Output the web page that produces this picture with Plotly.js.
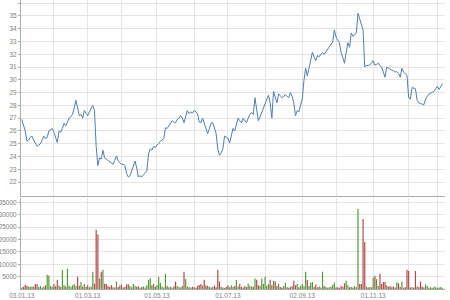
<!DOCTYPE html>
<html><head><meta charset="utf-8">
<script src="https://cdn.plot.ly/plotly-3.0.1.min.js"></script>
<style>html,body{margin:0;padding:0;background:#fff}#chart{width:450px;height:300px}</style>
</head><body><div id="chart"></div>
<script>
// Daily closing prices (trading-day index 0..249)
const price = [
26.9,26.5,26.0,25.2,25.3,25.5,25.6,25.3,25.1,24.8,
24.9,25.0,25.3,25.6,25.4,25.5,26.0,26.1,26.2,25.9,
25.5,25.1,26.0,25.9,26.2,26.6,26.4,26.65,27.0,27.1,
27.3,27.8,28.4,27.8,27.2,27.3,27.0,27.6,27.4,27.2,
27.5,27.7,28.0,27.6,24.8,23.3,23.9,23.8,24.5,23.9,
23.8,23.65,23.6,23.5,23.4,23.7,24.05,23.65,23.5,23.4,
23.4,23.3,22.7,22.4,22.5,22.9,23.3,23.65,23.1,22.4,
22.5,22.4,22.6,22.7,22.9,24.2,24.6,24.5,24.8,24.7,
24.9,25.0,25.2,25.3,25.4,26.25,26.2,26.4,26.65,26.8,
26.7,26.65,26.9,27.0,27.2,27.0,26.65,27.2,27.6,27.35,
27.5,27.4,27.6,27.5,27.35,26.7,26.65,27.0,26.6,26.25,
25.8,26.2,26.6,26.65,26.3,25.8,24.6,24.1,24.3,24.6,
25.6,25.5,25.45,25.05,25.7,26.2,26.0,26.5,27.0,26.8,
26.65,27.0,26.8,26.65,27.0,27.3,27.45,27.3,28.6,27.75,
26.8,27.1,27.45,27.8,28.1,28.5,28.8,28.2,27.0,29.1,
28.6,28.2,28.9,28.7,28.6,28.7,28.85,28.7,28.6,29.0,
28.7,28.2,27.2,27.6,27.5,28.0,28.5,29.95,30.9,30.3,
31.0,31.5,32.15,31.8,31.5,31.9,31.8,32.0,32.1,32.0,
32.2,32.3,32.5,32.7,32.95,33.9,33.35,33.1,32.9,32.15,
31.7,31.3,32.15,32.9,32.55,33.65,33.4,33.5,33.65,35.2,
34.8,34.3,33.9,31.0,31.15,31.1,31.2,31.3,31.5,31.15,
31.2,31.3,31.1,31.0,30.6,30.2,31.0,30.9,30.8,30.75,
30.7,30.6,30.65,30.5,30.2,30.9,30.6,30.5,30.35,28.6,
28.5,29.4,29.35,29.3,28.4,28.2,28.15,28.1,28.05,28.5,
28.7,28.9,28.95,29.0,29.1,29.3,29.5,29.25,29.5,29.7
];
// Daily volume
const volume = [
600,900,1700,1200,1000,800,1100,900,2000,1900,
800,1200,600,1000,1500,5800,5500,1200,900,2000,
1100,3700,1400,800,7700,1500,1000,8200,1300,900,
1500,2000,1200,5000,1300,2800,1000,2000,900,1500,
700,1000,7000,2200,24000,22000,4200,7000,7800,2100,
2000,1200,900,1500,700,600,3000,800,1400,1700,
600,900,1800,1900,1200,700,2000,1300,900,1100,
500,800,1000,600,1500,3700,4300,1500,2000,900,
1500,5000,2500,1000,600,6200,1200,700,900,500,
1100,3000,1200,800,600,1200,7000,4000,1000,700,
600,900,800,500,1200,1600,2000,1400,3700,1500,
1200,900,600,800,1400,700,7800,3000,900,600,
400,800,1500,700,1500,800,1200,3600,1000,2000,
900,600,1200,800,2200,1300,1000,900,4200,3700,
1500,1200,4200,2000,5000,1300,2000,3700,1500,3300,
3000,1200,2000,800,600,1200,2500,700,500,900,
1200,3300,1500,2000,700,1200,2000,1100,7000,3600,
1200,2500,2800,900,1800,700,1000,600,7000,1200,
800,500,700,900,1600,2600,600,700,500,1300,
900,2300,3300,1500,700,800,600,1200,700,32400,
2000,2000,28300,19000,1000,600,800,700,4500,5400,
4000,1200,6200,2000,2800,2800,1500,900,1200,700,
1000,600,2700,2300,800,3000,500,700,7800,7300,
600,800,500,7300,1000,700,3000,1000,600,1800,
1200,500,700,400,1000,700,400,600,800,500
];
// Month boundaries (trading-day index) and their labels
const monthTicks = [0,19,39,59,80,102,122,144,166,186,208,229,246];
const monthLabels = ['03.01.13','','01.03.13','','01.05.13','','01.07.13','','02.09.13','','01.11.13','','01.01.14'];
const priceTicks = [22,23,24,25,26,27,28,29,30,31,32,33,34,35,36];
const volumeTicks = [5000,10000,15000,20000,25000,30000,35000];
const volumeLabels = ['5000','10000','15000','20000','25000','30000','35000'];

const idx = price.map((_, i) => i);
const barColors = price.map((p, i) => (i === 0 || p >= price[i - 1]) ? '#4f9a33' : '#b04848');

const font = {family: 'Liberation Sans Narrow, Liberation Sans, sans-serif', size: 6.5, color: '#808080'};
const grid = '#e4e4e4';

const traces = [
  {x: idx, y: price, type: 'scatter', mode: 'lines', xaxis: 'x', yaxis: 'y',
   line: {color: '#4f7eb0', width: 1}, hoverinfo: 'skip'},
  {x: idx, y: volume, type: 'bar', xaxis: 'x2', yaxis: 'y2',
   marker: {color: barColors, line: {width: 0}}, hoverinfo: 'skip'}
];

const xCommon = {
  range: [-0.5, 250.5], tickmode: 'array', tickvals: monthTicks,
  showgrid: true, gridcolor: grid, gridwidth: 1, zeroline: false,
  showline: true, linecolor: '#aaa', linewidth: 1, tickfont: font, fixedrange: true
};

const layout = {
  width: 450, height: 300,
  margin: {l: 21, r: 5, t: 0, b: 11, pad: 0},
  paper_bgcolor: '#fff', plot_bgcolor: '#fff',
  showlegend: false, bargap: 0.3,
  font: font,
  xaxis: Object.assign({}, xCommon, {anchor: 'y', domain: [0, 1], ticktext: monthLabels, showticklabels: false, ticks: ''}),
  xaxis2: Object.assign({}, xCommon, {anchor: 'y2', domain: [0, 1], matches: 'x', ticktext: monthLabels, showticklabels: true, ticks: '', ticklen: 0}),
  yaxis: {domain: [0.321, 1], range: [20.9, 36.24], tickmode: 'array', tickvals: priceTicks,
    showgrid: true, gridcolor: grid, zeroline: false, showline: true, linecolor: '#aaa',
    ticks: 'outside', ticklen: 2, tickcolor: '#aaa', tickfont: font, fixedrange: true},
  yaxis2: {domain: [0, 0.315], range: [0, 36800], tickmode: 'array', tickvals: volumeTicks, ticktext: volumeLabels,
    showgrid: true, gridcolor: grid, zeroline: false, showline: true, linecolor: '#aaa',
    ticks: 'outside', ticklen: 2, tickcolor: '#aaa', tickfont: font, fixedrange: true}
};

Plotly.newPlot('chart', traces, layout, {displayModeBar: false, staticPlot: true});
</script></body></html>
